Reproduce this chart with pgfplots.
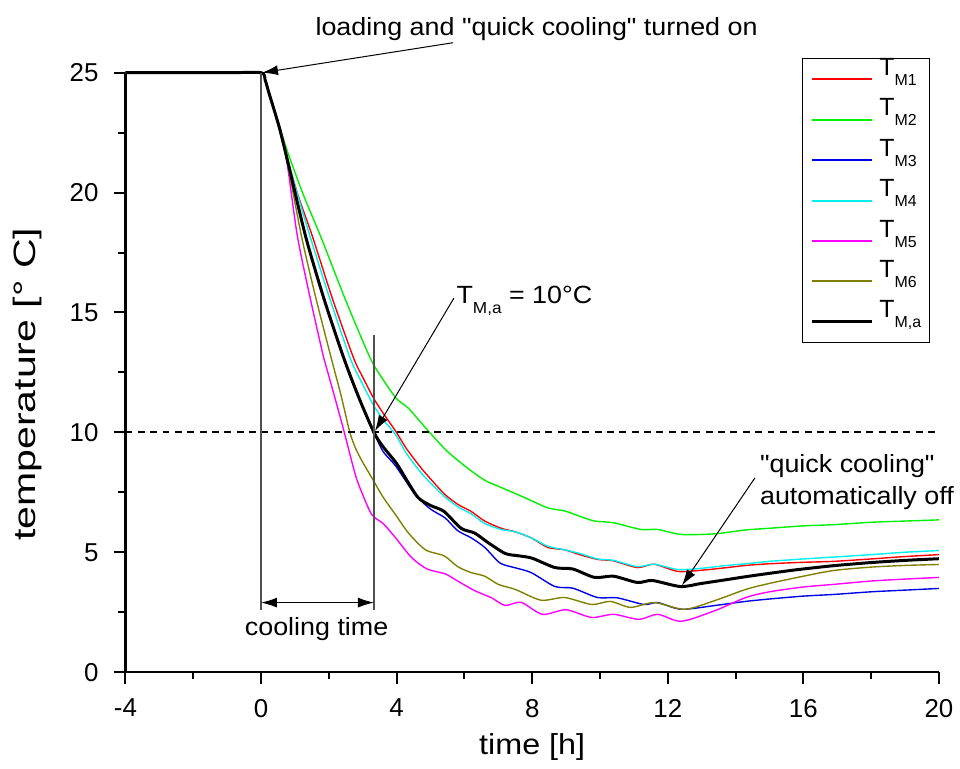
\documentclass[border=0pt]{standalone}
\usepackage{pgfplots}
\pgfplotsset{compat=1.18}
\usepackage{pgfplotstable}
\usepackage{graphicx}
\usepackage{fontspec}
\setmainfont{Liberation Sans}[Ligatures=TeXOff]
\usetikzlibrary{arrows.meta}

\definecolor{cM1}{RGB}{255,0,0}
\definecolor{cM2}{RGB}{0,240,0}
\definecolor{cM3}{RGB}{0,0,230}
\definecolor{cM4}{RGB}{0,240,240}
\definecolor{cM5}{RGB}{255,0,255}
\definecolor{cM6}{RGB}{128,128,0}
\definecolor{vline}{RGB}{80,80,80}

\pgfplotstableread{
x y
-4 25
-1 25
0 25
0.12 24.72
0.23 24.2
0.53 22.8
0.77 21.45
1.1 19.85
1.51 18.2
2.1 15.6
2.73 13.1
3.0 12.3
3.33 11.4
3.65 10.7
3.97 10.05
4.3 9.3
4.73 8.5
5.1 7.9
5.43 7.4
5.8 7.0
6.2 6.7
6.6 6.3
7.08 6.0
7.5 5.85
7.97 5.6
8.46 5.2
8.96 5.1
9.4 4.9
9.93 4.7
10.4 4.64
11.1 4.36
11.6 4.5
12.3 4.2
13.0 4.25
13.75 4.36
14.3 4.45
15.0 4.52
16.0 4.58
16.9 4.62
18.0 4.72
19.0 4.82
20.0 4.9
}\tMa

\pgfplotstableread{
x y
-4 25
-1 25
0 25
0.12 24.72
0.23 24.2
0.53 22.85
0.77 21.75
1.25 19.9
1.75 18.2
2.5 15.5
3.22 13.1
3.6 12.2
4.0 11.4
4.35 11.0
4.94 10.05
5.5 9.2
6.1 8.5
6.6 8.0
7.0 7.75
7.58 7.4
7.9 7.2
8.46 6.85
8.96 6.72
9.4 6.5
9.84 6.3
10.4 6.23
11.2 5.95
11.7 5.95
12.4 5.74
13.4 5.77
14.3 5.93
15.0 6.0
16.0 6.1
16.9 6.15
18.0 6.25
19.0 6.3
20.0 6.35
}\tMb

\pgfplotstableread{
x y
-4 25
-1 25
0 25
0.12 24.7
0.23 24.17
0.53 22.76
0.77 21.4
1.31 18.2
1.85 15.6
2.44 13.1
2.9 11.4
3.33 10.0
3.6 9.2
3.97 8.6
4.55 7.4
5.0 6.8
5.43 6.43
5.8 5.9
6.2 5.6
6.6 5.2
7.05 4.55
7.5 4.35
7.97 4.15
8.67 3.57
9.2 3.5
9.93 3.11
10.5 3.1
11.3 2.82
11.7 2.9
12.4 2.62
13.4 2.78
14.3 2.95
15.0 3.05
16.0 3.17
16.9 3.24
18.0 3.35
19.0 3.42
20.0 3.49
}\tMc

\pgfplotstableread{
x y
-4 25
-1 25
0 25
0.12 24.72
0.23 24.2
0.53 22.8
0.77 21.45
1.1 19.8
1.44 18.2
2.0 15.7
2.63 13.1
3.0 12.0
3.33 11.1
3.65 10.45
3.97 9.9
4.3 9.1
4.73 8.3
5.1 7.75
5.43 7.3
5.8 6.9
6.2 6.6
6.6 6.2
7.08 5.95
7.5 5.85
7.97 5.6
8.46 5.25
8.96 5.1
9.4 4.95
9.93 4.72
10.4 4.66
11.1 4.4
11.6 4.5
12.3 4.28
13.0 4.33
13.75 4.45
14.3 4.52
15.0 4.62
16.0 4.72
16.9 4.8
18.0 4.9
19.0 5.0
20.0 5.07
}\tMd

\pgfplotstableread{
x y
-4 25
-1 25
0 25
0.12 24.7
0.23 24.15
0.53 22.7
0.77 21.2
1.07 18.2
1.45 15.6
1.85 13.1
2.0 12.35
2.4 10.3
2.78 8.24
3.0 7.4
3.27 6.56
3.6 6.2
3.97 5.6
4.44 4.78
4.9 4.3
5.43 4.1
5.8 3.8
6.3 3.4
6.8 3.1
7.2 2.78
7.67 2.91
8.3 2.41
9.0 2.6
9.75 2.28
10.4 2.41
11.15 2.2
11.7 2.41
12.4 2.12
13.4 2.57
14.3 3.11
15.0 3.35
16.0 3.55
16.9 3.66
18.0 3.8
19.0 3.88
20.0 3.95
}\tMe

\pgfplotstableread{
x y
-4 25
-1 25
0 25
0.12 24.7
0.23 24.16
0.53 22.72
0.77 21.3
1.19 18.2
1.6 15.7
2.07 13.1
2.35 11.6
2.62 10.0
2.8 9.3
3.0 8.75
3.27 8.1
3.6 7.3
3.97 6.56
4.35 5.8
4.85 5.1
5.4 4.85
5.8 4.4
6.2 4.15
6.6 4.0
7.0 3.66
7.5 3.45
8.26 3.0
8.96 3.11
9.75 2.82
10.3 2.95
10.9 2.7
11.6 2.9
12.5 2.62
13.4 2.99
14.3 3.45
15.0 3.7
16.0 4.0
16.9 4.24
18.0 4.38
19.0 4.45
20.0 4.49
}\tMf

\pgfplotstableread{
x y
-4 25
-1 25
0 25
0.12 24.7
0.23 24.17
0.53 22.76
0.77 21.4
1.31 18.2
1.85 15.6
2.44 13.1
2.9 11.4
3.33 10.0
3.6 9.4
4.0 8.7
4.3 8.0
4.64 7.27
5.0 6.95
5.4 6.7
5.9 6.0
6.3 5.8
6.7 5.4
7.2 4.95
7.6 4.85
8.0 4.75
8.67 4.36
9.2 4.3
9.84 3.95
10.4 4.0
11.1 3.74
11.55 3.82
12.37 3.57
13.0 3.7
13.75 3.86
14.3 3.98
15.0 4.12
15.8 4.27
16.9 4.44
18.0 4.57
19.0 4.66
20.0 4.73
}\tMavg

\newcommand{\Tsub}[1]{T\raisebox{-5pt}{\fontsize{8}{8}\selectfont #1}}
\newcommand{\hs}[1]{\scalebox{1.08}[1]{#1}}

\begin{document}
\begin{tikzpicture}
\begin{axis}[
  scale only axis,
  width=408.5pt, height=301pt,
  xmin=-4, xmax=20, ymin=0, ymax=25,
  axis lines*=left,
  axis line style={line width=1.1pt},
  clip=false,
  tick align=outside,
  major tick length=6pt,
  minor tick length=3.5pt,
  every tick/.style={line width=1pt, black},
  xtick={-4,0,4,8,12,16,20},
  xticklabels={-4,0,4,8,12,16,20},
  minor xtick={-2,2,6,10,14,18},
  ytick={0,5,10,15,20,25},
  yticklabels={0,5,10,15,20,25},
  minor ytick={2.5,7.5,12.5,17.5,22.5},
  tick label style={font=\fontsize{13}{15}\selectfont},
  xticklabel style={yshift=-4pt},
  yticklabel style={xshift=-4pt},
  xlabel={\scalebox{1.12}[1]{time [h]}},
  ylabel={\scalebox{1.33}[1]{temperature [° C]}},
  xlabel style={font=\fontsize{14.5}{17}\selectfont, at={(axis description cs:0.5,-0.125)}, anchor=center},
  ylabel style={font=\fontsize{15.5}{18}\selectfont, at={(axis description cs:-0.12,0.48)}, anchor=center},
  legend style={at={(axis cs:15.96,25.62)}, anchor=north west,
    draw=black, line width=0.6pt, inner xsep=4pt, inner ysep=2.5pt,
    row sep=4.3pt, column sep=3pt,
    nodes={inner sep=0pt, text height=6pt, text depth=10pt, font=\fontsize{12.5}{15}\selectfont}},
  legend cell align=left,
  legend image code/.code={\draw[#1] (0pt,0pt) -- (30pt,0pt);},
  every axis plot/.append style={smooth, tension=0.45},
]
\addplot[color=cM1, draw=cM1, line width=0.7pt, legend image post style={line width=1pt}] table {\tMa};
\addlegendentry{\Tsub{M1}}
\addplot[color=cM2, draw=cM2, line width=0.7pt, legend image post style={line width=1pt}] table {\tMb};
\addlegendentry{\Tsub{M2}}
\addplot[color=cM3, draw=cM3, line width=0.7pt, legend image post style={line width=1pt}] table {\tMc};
\addlegendentry{\Tsub{M3}}
\addplot[color=cM4, draw=cM4, line width=0.7pt, legend image post style={line width=1pt}] table {\tMd};
\addlegendentry{\Tsub{M4}}
\addplot[color=cM5, draw=cM5, line width=0.7pt, legend image post style={line width=1pt}] table {\tMe};
\addlegendentry{\Tsub{M5}}
\addplot[color=cM6, draw=cM6, line width=0.7pt, legend image post style={line width=1pt}] table {\tMf};
\addlegendentry{\Tsub{M6}}
\addplot[color=black, draw=black, line width=1.5pt, legend image post style={line width=1.6pt}] table {\tMavg};
\addlegendentry{\Tsub{M,a}}

% dashed 10 line
\draw[black, line width=1pt, dash pattern=on 3.5pt off 2.7pt] (axis cs:-4,10) -- (axis cs:20,10);
% vertical lines
\draw[vline, line width=0.6pt] (axis cs:0,25) -- (axis cs:0,2.57);
\draw[vline, line width=0.6pt] (axis cs:3.33,14.08) -- (axis cs:3.33,2.57);
\draw[black, line width=0.5pt, {Latex[length=8pt,width=5pt]}-{Latex[length=8pt,width=5pt]}] (axis cs:0,2.9) -- (axis cs:3.33,2.9);
\node[font=\fontsize{12.5}{15}\selectfont, anchor=base] at (axis cs:1.64,1.53) {\hs{cooling time}};

% top annotation
\node[font=\fontsize{12.5}{15}\selectfont, anchor=base] at (axis cs:8.13,26.54) {\hs{loading and "quick cooling" turned on}};
\draw[black, line width=0.5pt, -{Latex[length=8pt,width=5pt]}] (axis cs:5.665,26.25) -- (axis cs:0.03,25);

% T_M,a annotation
\node[font=\fontsize{12.5}{15}\selectfont, anchor=base west, inner sep=0pt] at (axis cs:5.755,15.37) {\hs{\Tsub{M,a} = 10°C}};
\draw[black, line width=0.5pt, -{Latex[length=8pt,width=5pt]}] (axis cs:5.69,15.6) -- (axis cs:3.36,10.05);

% quick cooling off annotation
\node[font=\fontsize{12.5}{15}\selectfont, anchor=base west, inner sep=0pt] at (axis cs:14.71,8.31) {\hs{"quick cooling"}};
\node[font=\fontsize{12.5}{15}\selectfont, anchor=base west, inner sep=0pt] at (axis cs:14.71,6.98) {\hs{automatically off}};
\draw[black, line width=0.5pt, -{Latex[length=8pt,width=5pt]}] (axis cs:14.57,8.1) -- (axis cs:12.42,3.62);
\end{axis}
\path (-63pt,-48.5pt) rectangle (417pt,337.5pt);
\end{tikzpicture}
\end{document}
